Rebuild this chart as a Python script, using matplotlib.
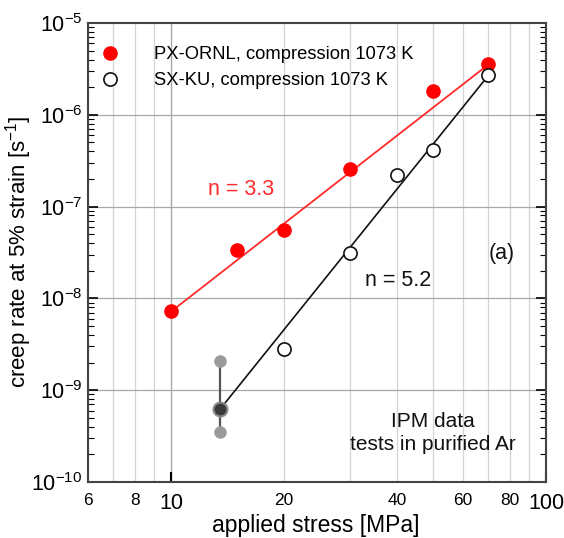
import matplotlib.pyplot as plt
from matplotlib.ticker import FixedLocator, FixedFormatter, LogLocator, NullFormatter

# PX-ORNL, compression 1073 K (filled red)
px_stress = [10, 15, 20, 30, 50, 70]
px_rate = [7.3e-9, 3.4e-8, 5.5e-8, 2.6e-7, 1.8e-6, 3.6e-6]

# SX-KU, compression 1073 K (open circles)
sx_stress = [20, 30, 40, 50, 70]
sx_rate = [2.8e-9, 3.1e-8, 2.2e-7, 4.1e-7, 2.7e-6]

# scatter range at 13.5 MPa (grey)
range_stress = 13.5
range_rate = [3.5e-10, 6.2e-10, 2.1e-9]

# fitted power-law lines (end points)
fit_red_x = [10, 70]
fit_red_y = [7.2e-9, 3.5e-6]
fit_blk_x = [13.5, 70]
fit_blk_y = [6.2e-10, 2.65e-6]

x_major = [10, 100]
x_minor = [6, 7, 8, 9, 20, 30, 40, 50, 60, 70, 80, 90]
x_minor_labels = ["6", "", "8", "", "20", "", "40", "", "60", "", "80", ""]

plt.rcParams["font.family"] = ["Liberation Sans", "DejaVu Sans"]

fig = plt.figure(figsize=(5.64, 5.38), dpi=100)
ax = fig.add_axes([88 / 564, 1 - 482 / 538, 458 / 564, 459 / 538])
ax.set_xscale("log")
ax.set_yscale("log")
ax.set_xlim(6, 100)
ax.set_ylim(1e-10, 1e-5)

# grid
for xv in x_minor:
    ax.axvline(xv, color="#d4d4d4", lw=0.9, zorder=0)
ax.axvline(10, color="#a8a8a8", lw=1.0, zorder=0)
for e in range(-9, -5):
    ax.axhline(10.0 ** e, color="#a8a8a8", lw=0.9, zorder=0)

ax.plot(fit_red_x, fit_red_y, color="#ff2a2a", lw=1.3, zorder=2)
ax.plot(fit_blk_x, fit_blk_y, color="#111111", lw=1.2, zorder=2)

ax.plot([range_stress, range_stress], [range_rate[0], range_rate[2]], color="#555555", lw=1.6, zorder=2)
ax.plot([range_stress, range_stress], [range_rate[0], range_rate[2]], "o", ms=9,
        color="#9a9a9a", mec="none", zorder=3)
ax.plot([range_stress], [range_rate[1]], "o", ms=10, color="#3a3a3a", mec="#8a8a8a", mew=1.5, zorder=3)

ax.plot(px_stress, px_rate, "o", ms=9.5, color="#ff0000", mec="#ff0000", zorder=4,
        label="PX-ORNL, compression 1073 K")
ax.plot(sx_stress, sx_rate, "o", ms=9.5, mfc="white", mec="#111111", mew=1.2, zorder=4,
        label="SX-KU, compression 1073 K")

ax.legend(loc="upper left", bbox_to_anchor=(0.0, 0.97), frameon=False, fontsize=13.2,
          handletextpad=1.7, borderaxespad=0.2, labelspacing=0.5, handlelength=1.4,
          borderpad=0.3)

# ticks
ax.xaxis.set_major_locator(FixedLocator(x_major))
ax.xaxis.set_major_formatter(FixedFormatter(["10", "100"]))
ax.xaxis.set_minor_locator(FixedLocator(x_minor))
ax.xaxis.set_minor_formatter(FixedFormatter(x_minor_labels))
ax.tick_params(axis="x", which="major", labelsize=15.5, direction="in", length=7, width=1.5, pad=8)
ax.tick_params(axis="x", which="minor", labelsize=12.5, direction="in", length=0, pad=8)

ax.yaxis.set_major_locator(LogLocator(base=10, numticks=10))
ax.yaxis.set_minor_locator(LogLocator(base=10, subs=range(2, 10), numticks=10))
ax.yaxis.set_minor_formatter(NullFormatter())
ax.tick_params(axis="y", which="major", labelsize=15.5, direction="in", length=7, width=1.2,
               right=True, pad=4)
ax.tick_params(axis="y", which="minor", direction="in", length=4, width=0.8, right=True)

for sp in ax.spines.values():
    sp.set_color("#444444")
    sp.set_linewidth(1.5)

ax.set_xlabel("applied stress [MPa]", fontsize=16.5)
ax.xaxis.set_label_coords((316 - 88) / 458, -(514 - 482) / 459)
ax.set_ylabel("creep rate at 5% strain [s$^{\\mathregular{-1}}$]", fontsize=16)
ax.yaxis.set_label_coords(-(88 - 34) / 458, (482 - 252) / 459)

ax.text(15.4, 1.52e-7, "n = 3.3", color="#ff2a2a", fontsize=15.5, ha="center", va="center")
ax.text(40.3, 1.58e-8, "n = 5.2", color="#111111", fontsize=15.5, ha="center", va="center")
ax.text(76.3, 3.1e-8, "(a)", color="#111111", fontsize=15.5, ha="center", va="center")
ax.text(50.0, 3.4e-10, "IPM data\ntests in purified Ar", color="#111111", fontsize=15,
        ha="center", va="center", linespacing=1.25)

fig.savefig("out.png", dpi=100)
